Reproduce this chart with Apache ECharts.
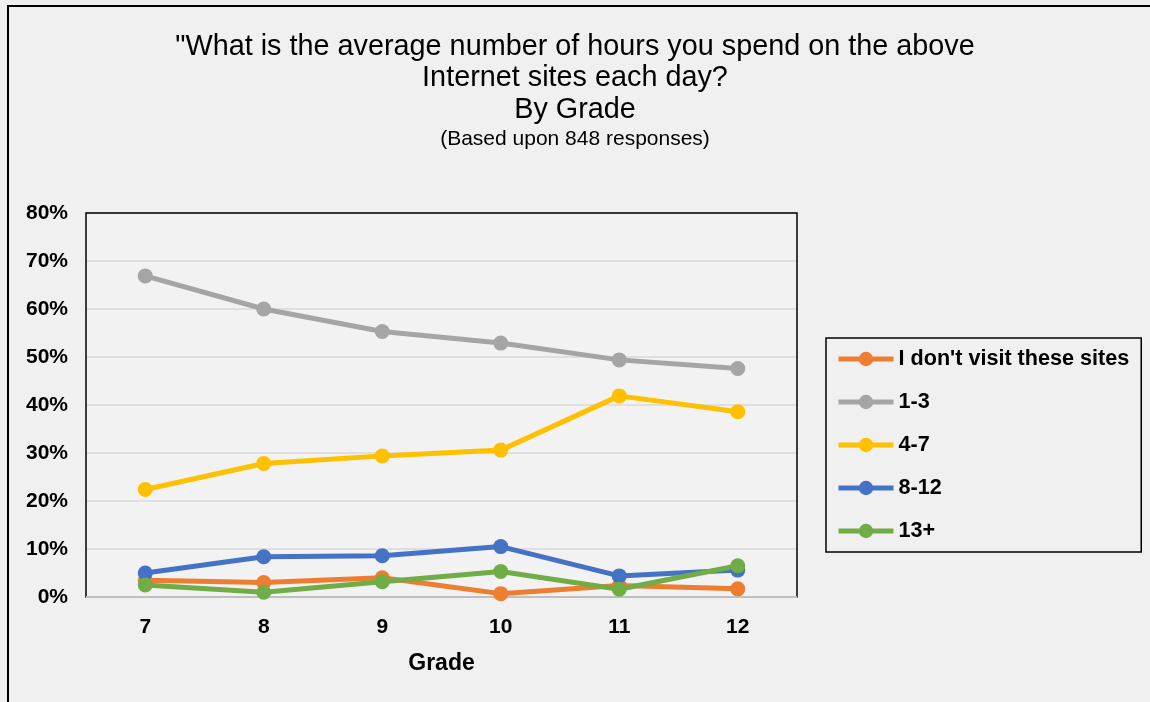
<!DOCTYPE html>
<html>
<head>
<meta charset="utf-8">
<script src="https://cdn.jsdelivr.net/npm/echarts@6/dist/echarts.min.js"></script>
<style>
html,body{margin:0;padding:0;background:#f0f0f0;}
#chart{width:1150px;height:702px;}
</style>
</head>
<body>
<div id="chart"></div>
<script>
const grades = ['7', '8', '9', '10', '11', '12'];
const seriesNames = ["I don't visit these sites", '1-3', '4-7', '8-12', '13+'];
const dontVisit = [3.5, 3.0, 4.0, 0.7, 2.4, 1.7];
const h1to3 = [66.9, 60.0, 55.3, 52.9, 49.4, 47.6];
const h4to7 = [22.4, 27.8, 29.4, 30.6, 41.9, 38.6];
const h8to12 = [5.0, 8.4, 8.6, 10.5, 4.4, 5.6];
const h13plus = [2.5, 1.0, 3.2, 5.3, 1.6, 6.5];
const yTicks = [0, 10, 20, 30, 40, 50, 60, 70, 80];

const colors = ['#ED7D31', '#A5A5A5', '#FFC000', '#4472C4', '#70AD47'];
const values = [dontVisit, h1to3, h4to7, h8to12, h13plus];
const FONT = '"Liberation Sans", Arial, sans-serif';

const chart = echarts.init(document.getElementById('chart'));
chart.setOption({
  backgroundColor: '#f0f0f0',
  animation: false,
  color: colors,
  graphic: [{
    type: 'rect', silent: true, z: -10,
    shape: { x: 8, y: 6, width: 1160, height: 720 },
    style: { fill: '#f0f0f0', stroke: '#000', lineWidth: 2 }
  }, {
    type: 'rect', silent: true, z: 10,
    shape: { x: 86, y: 213, width: 711, height: 384 },
    style: { fill: 'none', stroke: '#000', lineWidth: 1.5 }
  }, {
    type: 'line', silent: true, z: 11,
    shape: { x1: 86, y1: 597, x2: 797, y2: 597 },
    style: { stroke: '#bfbfbf', lineWidth: 2 }
  }],
  title: [{
    text: '"What is the average number of hours you spend on the above\nInternet sites each day?\nBy Grade',
    left: 'center', top: 26,
    textStyle: { fontFamily: FONT, fontSize: 28.8, fontWeight: 'normal', color: '#000', lineHeight: 31.5 }
  }, {
    text: '(Based upon 848 responses)',
    left: 'center', top: 124,
    textStyle: { fontFamily: FONT, fontSize: 21, fontWeight: 'normal', color: '#000' }
  }].map(t => Object.assign(t, { left: 'center', right: undefined, padding: [5, 0, 5, 10] })),
  legend: {
    orient: 'vertical',
    left: 826, top: 338,
    padding: [10, 12, 10, 10],
    itemGap: 21,
    itemWidth: 55, itemHeight: 18,
    borderColor: '#000', borderWidth: 1.5,
    backgroundColor: '#f0f0f0',
    lineStyle: { width: 5 },
    textStyle: { fontFamily: FONT, fontSize: 21.6, fontWeight: 'bold', color: '#000', lineHeight: 22 },
    data: seriesNames
  },
  grid: {
    left: 86, top: 213, width: 711, height: 384,
    show: true, borderColor: '#000', borderWidth: 0, backgroundColor: '#f2f2f2',
    containLabel: false
  },
  xAxis: {
    type: 'category', data: grades, boundaryGap: true,
    name: 'Grade', nameLocation: 'middle', nameGap: 55,
    nameTextStyle: { fontFamily: FONT, fontSize: 23, fontWeight: 'bold', color: '#000' },
    axisLine: { show: false },
    axisTick: { show: false },
    axisLabel: { fontFamily: FONT, fontSize: 21, fontWeight: 'bold', color: '#000', margin: 20 }
  },
  yAxis: {
    type: 'value', min: yTicks[0], max: yTicks[yTicks.length - 1], interval: 10,
    axisLine: { show: false }, axisTick: { show: false },
    splitLine: { lineStyle: { color: '#d9d9d9', width: 1.5 } },
    axisLabel: { fontFamily: FONT, fontSize: 21, fontWeight: 'bold', color: '#000', margin: 18, formatter: '{value}%' }
  },
  series: seriesNames.map((n, i) => ({
    name: n, type: 'line', data: values[i], z: 20,
    symbol: 'circle', symbolSize: 15,
    lineStyle: { width: 5, color: colors[i] },
    itemStyle: { color: colors[i] }
  }))
});
</script>
</body>
</html>
